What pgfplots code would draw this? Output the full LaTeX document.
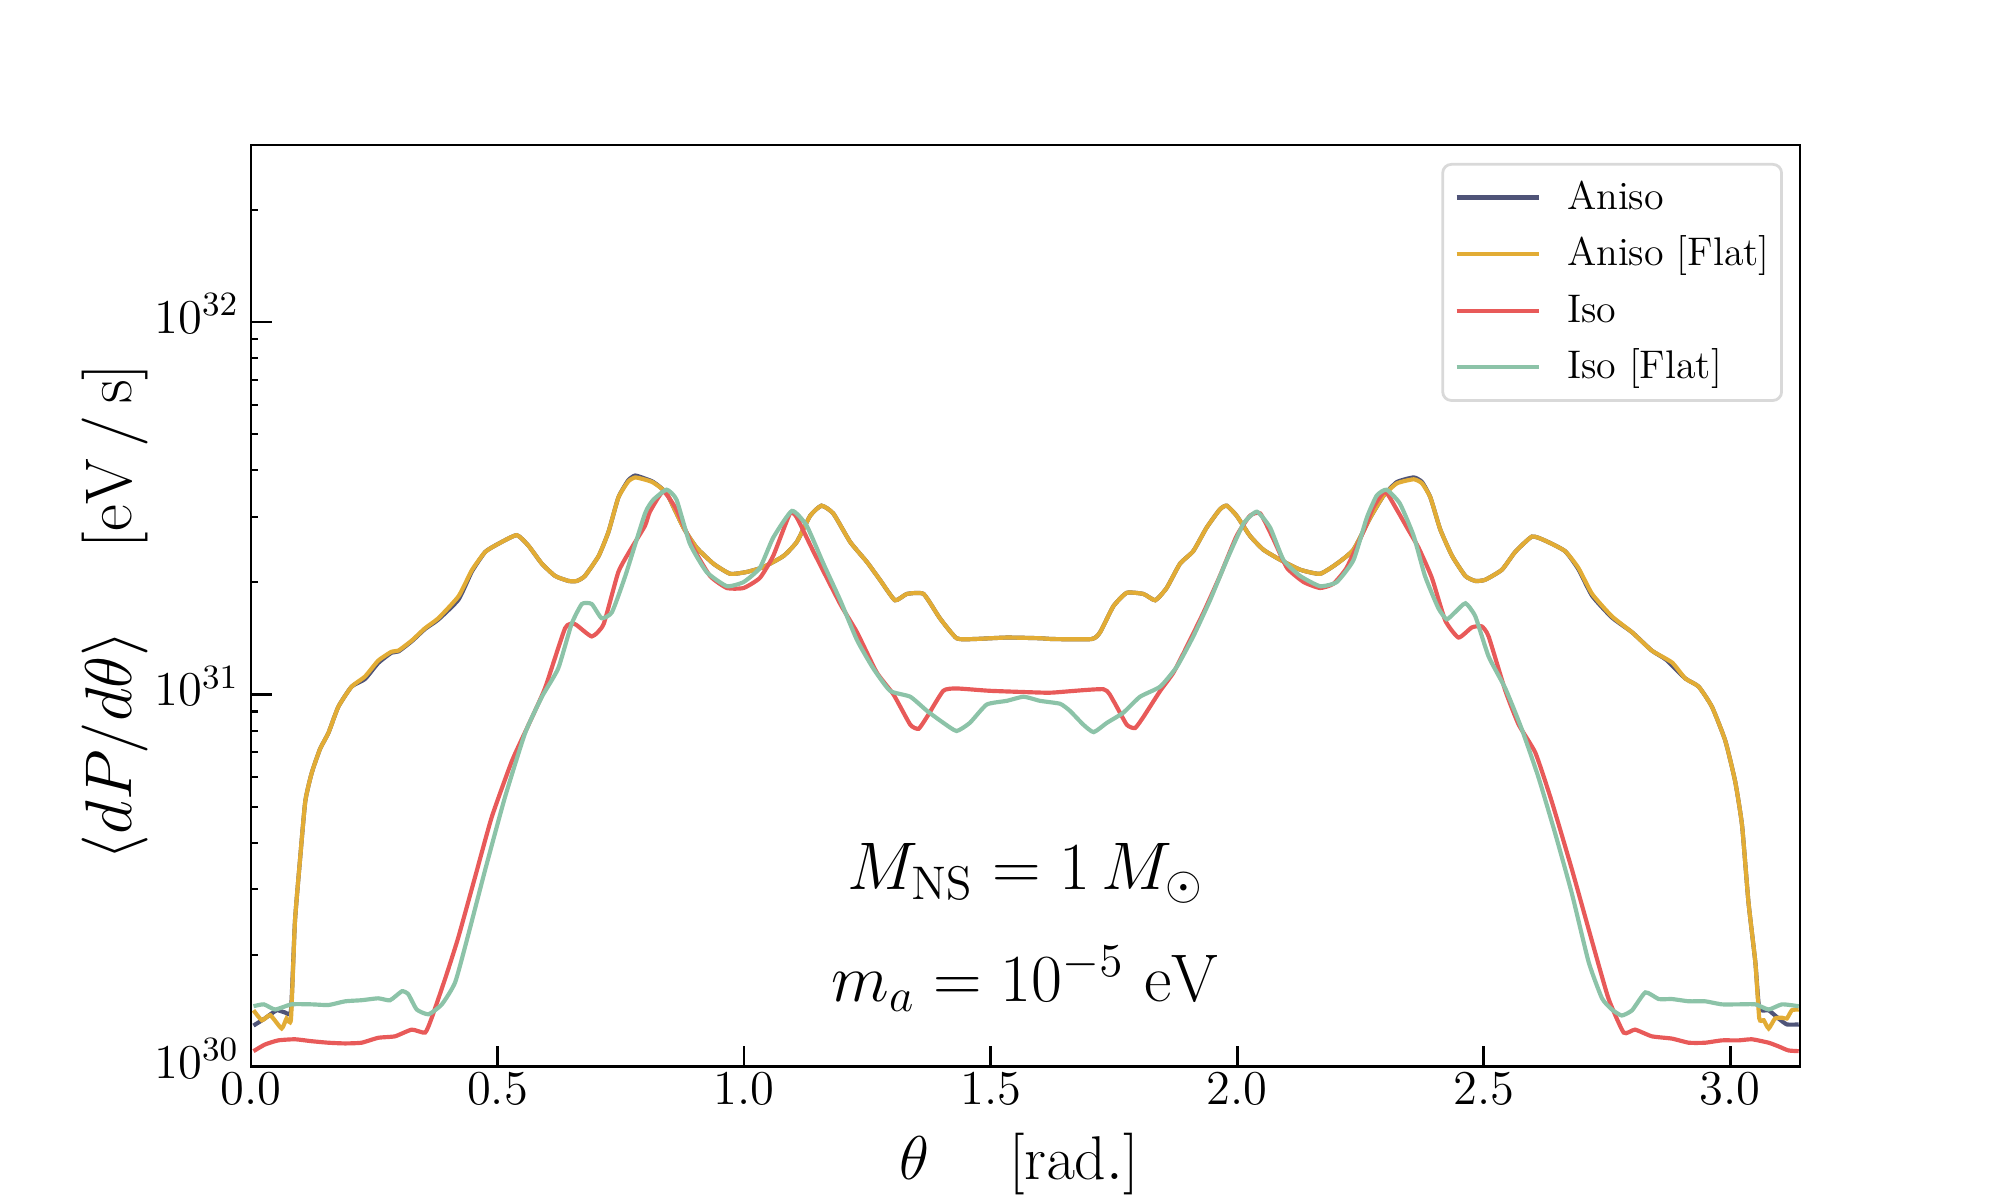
\RequirePackage{fix-cm}
\documentclass[border=0pt]{standalone}
\usepackage{pgfplots}
\usepackage{pgfplotstable}
\pgfplotsset{compat=1.18}
\definecolor{cAniso}{HTML}{4F5478}
\definecolor{cAnisoF}{HTML}{E2AC35}
\definecolor{cIso}{HTML}{E85A59}
\definecolor{cIsoF}{HTML}{8CC3A8}
\definecolor{legendgray}{rgb}{0.85,0.85,0.85}

\pgfplotstableread{
x y
0.005 1.291e30
0.028 1.349e30
0.052 1.419e30
0.069 1.400e30
0.081 1.419e30
0.089 2.449e30
0.099 3.556e30
0.110 5.164e30
0.123 6.152e30
0.140 7.145e30
0.157 7.889e30
0.177 9.268e30
0.204 1.050e31
0.231 1.100e31
0.258 1.215e31
0.285 1.295e31
0.299 1.305e31
0.326 1.390e31
0.353 1.500e31
0.380 1.590e31
0.421 1.800e31
0.448 2.140e31
0.475 2.415e31
0.502 2.541e31
0.539 2.679e31
0.563 2.506e31
0.590 2.244e31
0.617 2.080e31
0.644 2.018e31
0.661 2.018e31
0.677 2.080e31
0.705 2.355e31
0.725 2.735e31
0.745 3.381e31
0.765 3.760e31
0.779 3.873e31
0.799 3.800e31
0.816 3.720e31
0.843 3.467e31
0.877 2.805e31
0.904 2.477e31
0.938 2.244e31
0.972 2.109e31
1.005 2.133e31
1.039 2.198e31
1.080 2.355e31
1.107 2.570e31
1.134 3.020e31
1.157 3.214e31
1.181 3.062e31
1.215 2.570e31
1.249 2.270e31
1.276 2.028e31
1.306 1.791e31
1.330 1.862e31
1.364 1.862e31
1.397 1.603e31
1.431 1.416e31
1.465 1.409e31
1.533 1.422e31
1.600 1.416e31
1.627 1.409e31
1.705 1.409e31
1.722 1.469e31
1.749 1.726e31
1.776 1.875e31
1.810 1.862e31
1.834 1.791e31
1.857 1.932e31
1.884 2.244e31
1.911 2.427e31
1.938 2.805e31
1.965 3.141e31
1.979 3.214e31
1.999 3.020e31
2.026 2.667e31
2.053 2.449e31
2.087 2.301e31
2.128 2.163e31
2.168 2.109e31
2.202 2.244e31
2.236 2.449e31
2.270 2.985e31
2.297 3.420e31
2.324 3.720e31
2.358 3.828e31
2.375 3.720e31
2.392 3.381e31
2.412 2.773e31
2.436 2.355e31
2.463 2.080e31
2.483 2.018e31
2.503 2.032e31
2.537 2.163e31
2.564 2.415e31
2.598 2.655e31
2.625 2.588e31
2.665 2.427e31
2.692 2.170e31
2.720 1.840e31
2.760 1.610e31
2.801 1.469e31
2.841 1.312e31
2.870 1.240e31
2.909 1.104e31
2.936 1.050e31
2.963 9.268e30
2.990 7.516e30
3.010 5.848e30
3.024 4.457e30
3.037 2.773e30
3.051 1.910e30
3.059 1.435e30
3.078 1.419e30
3.098 1.349e30
3.115 1.300e30
3.139 1.300e30
}\tblAniso

\pgfplotstableread{
x y
0.005 1.419e30
0.022 1.334e30
0.039 1.377e30
0.062 1.268e30
0.072 1.349e30
0.081 1.343e30
0.089 2.449e30
0.099 3.556e30
0.110 5.164e30
0.123 6.152e30
0.140 7.145e30
0.157 7.889e30
0.177 9.268e30
0.204 1.050e31
0.231 1.117e31
0.258 1.233e31
0.285 1.303e31
0.299 1.312e31
0.326 1.396e31
0.353 1.507e31
0.380 1.603e31
0.421 1.837e31
0.448 2.158e31
0.475 2.415e31
0.502 2.541e31
0.539 2.679e31
0.563 2.506e31
0.590 2.244e31
0.617 2.080e31
0.644 2.018e31
0.661 2.018e31
0.677 2.080e31
0.705 2.355e31
0.725 2.735e31
0.745 3.381e31
0.765 3.733e31
0.779 3.828e31
0.799 3.776e31
0.816 3.707e31
0.843 3.467e31
0.877 2.805e31
0.904 2.477e31
0.938 2.244e31
0.972 2.109e31
1.005 2.133e31
1.039 2.198e31
1.080 2.355e31
1.107 2.570e31
1.134 3.020e31
1.157 3.214e31
1.181 3.062e31
1.215 2.570e31
1.249 2.270e31
1.276 2.028e31
1.306 1.791e31
1.330 1.862e31
1.364 1.862e31
1.397 1.603e31
1.431 1.416e31
1.465 1.409e31
1.533 1.422e31
1.600 1.416e31
1.627 1.409e31
1.705 1.409e31
1.722 1.469e31
1.749 1.726e31
1.776 1.875e31
1.810 1.862e31
1.834 1.791e31
1.857 1.932e31
1.884 2.244e31
1.911 2.427e31
1.938 2.805e31
1.965 3.141e31
1.979 3.214e31
1.999 3.020e31
2.026 2.667e31
2.053 2.449e31
2.087 2.301e31
2.128 2.163e31
2.168 2.109e31
2.202 2.244e31
2.236 2.449e31
2.270 2.985e31
2.297 3.420e31
2.324 3.690e31
2.358 3.784e31
2.375 3.690e31
2.392 3.381e31
2.412 2.773e31
2.436 2.355e31
2.463 2.080e31
2.483 2.018e31
2.503 2.032e31
2.537 2.163e31
2.564 2.415e31
2.598 2.655e31
2.625 2.588e31
2.665 2.427e31
2.692 2.188e31
2.720 1.862e31
2.760 1.622e31
2.801 1.469e31
2.841 1.312e31
2.882 1.219e31
2.909 1.104e31
2.936 1.050e31
2.963 9.268e30
2.990 7.516e30
3.010 5.848e30
3.024 4.457e30
3.037 2.773e30
3.051 1.910e30
3.059 1.349e30
3.068 1.334e30
3.078 1.268e30
3.091 1.349e30
3.105 1.355e30
3.115 1.349e30
3.125 1.419e30
3.139 1.426e30
}\tblAnisoFlat

\pgfplotstableread{
x y
0.005 1.102e30
0.028 1.148e30
0.055 1.178e30
0.089 1.186e30
0.123 1.172e30
0.157 1.161e30
0.191 1.156e30
0.224 1.161e30
0.258 1.197e30
0.292 1.208e30
0.326 1.259e30
0.353 1.236e30
0.366 1.349e30
0.394 1.730e30
0.420 2.218e30
0.454 3.221e30
0.488 4.677e30
0.529 6.622e30
0.563 8.299e30
0.596 1.038e31
0.637 1.507e31
0.657 1.545e31
0.691 1.432e31
0.715 1.545e31
0.745 2.133e31
0.772 2.477e31
0.799 2.838e31
0.809 3.097e31
0.836 3.508e31
0.863 3.133e31
0.897 2.477e31
0.931 2.080e31
0.965 1.932e31
0.999 1.932e31
1.032 2.056e31
1.059 2.355e31
1.093 3.062e31
1.107 2.985e31
1.141 2.415e31
1.195 1.750e31
1.229 1.469e31
1.269 1.146e31
1.303 1.000e31
1.337 8.299e30
1.354 8.091e30
1.371 8.710e30
1.404 1.023e31
1.431 1.038e31
1.499 1.023e31
1.600 1.012e31
1.627 1.012e31
1.729 1.033e31
1.749 9.616e30
1.776 8.299e30
1.793 8.128e30
1.810 8.710e30
1.844 1.023e31
1.871 1.146e31
1.898 1.346e31
1.932 1.663e31
1.965 2.080e31
1.999 2.667e31
2.026 3.020e31
2.047 3.062e31
2.074 2.606e31
2.101 2.188e31
2.135 2.004e31
2.168 1.932e31
2.195 1.982e31
2.222 2.188e31
2.256 2.735e31
2.276 3.177e31
2.300 3.508e31
2.324 3.133e31
2.345 2.800e31
2.368 2.477e31
2.395 2.056e31
2.422 1.581e31
2.449 1.422e31
2.476 1.514e31
2.496 1.524e31
2.510 1.432e31
2.544 1.023e31
2.571 8.299e30
2.605 6.966e30
2.638 5.164e30
2.679 3.388e30
2.720 2.168e30
2.753 1.528e30
2.784 1.236e30
2.807 1.259e30
2.841 1.208e30
2.882 1.191e30
2.916 1.161e30
2.949 1.161e30
2.983 1.178e30
3.017 1.178e30
3.044 1.186e30
3.078 1.161e30
3.098 1.135e30
3.118 1.107e30
3.139 1.102e30
}\tblIso

\pgfplotstableread{
x y
0.005 1.455e30
0.026 1.472e30
0.049 1.426e30
0.082 1.472e30
0.123 1.472e30
0.157 1.466e30
0.191 1.500e30
0.224 1.510e30
0.258 1.528e30
0.282 1.510e30
0.306 1.596e30
0.319 1.567e30
0.336 1.426e30
0.360 1.384e30
0.387 1.472e30
0.414 1.687e30
0.441 2.275e30
0.475 3.388e30
0.515 5.297e30
0.556 7.889e30
0.590 9.863e30
0.623 1.175e31
0.650 1.545e31
0.671 1.750e31
0.691 1.750e31
0.711 1.603e31
0.732 1.663e31
0.759 2.080e31
0.799 3.062e31
0.816 3.334e31
0.843 3.548e31
0.863 3.334e31
0.890 2.541e31
0.924 2.133e31
0.965 1.954e31
0.999 2.004e31
1.032 2.188e31
1.059 2.636e31
1.097 3.112e31
1.127 2.838e31
1.161 2.244e31
1.195 1.791e31
1.229 1.400e31
1.262 1.175e31
1.296 1.023e31
1.337 9.863e30
1.371 9.036e30
1.404 8.395e30
1.431 7.980e30
1.458 8.395e30
1.492 9.397e30
1.533 9.616e30
1.567 9.863e30
1.600 9.616e30
1.641 9.441e30
1.661 9.036e30
1.688 8.299e30
1.709 7.925e30
1.736 8.395e30
1.769 8.933e30
1.803 9.863e30
1.844 1.050e31
1.878 1.189e31
1.911 1.432e31
1.945 1.791e31
1.979 2.296e31
2.013 2.877e31
2.040 3.097e31
2.067 2.805e31
2.094 2.296e31
2.128 2.080e31
2.168 1.954e31
2.202 2.004e31
2.236 2.296e31
2.263 2.985e31
2.283 3.420e31
2.303 3.548e31
2.330 3.258e31
2.358 2.667e31
2.381 2.080e31
2.408 1.706e31
2.425 1.592e31
2.442 1.663e31
2.463 1.758e31
2.483 1.622e31
2.510 1.265e31
2.544 1.038e31
2.577 8.091e30
2.611 5.998e30
2.645 4.236e30
2.679 2.917e30
2.713 1.910e30
2.740 1.528e30
2.760 1.426e30
2.780 1.374e30
2.801 1.419e30
2.828 1.585e30
2.855 1.521e30
2.882 1.521e30
2.916 1.500e30
2.949 1.500e30
2.983 1.472e30
3.017 1.472e30
3.051 1.472e30
3.078 1.426e30
3.105 1.472e30
3.139 1.455e30
}\tblIsoFlat

\begin{document}
\begin{tikzpicture}
\useasboundingbox (0,0) rectangle (576pt,345.6pt);
\begin{axis}[
  at={(72.3pt,38.3pt)}, anchor=south west,
  scale only axis, width=446.1pt, height=265.5pt,
  xmin=0, xmax=3.14159, ymin=1e30, ymax=2.99e32,
  ymode=log, log basis y=10,
  xtick={0,0.5,1,1.5,2,2.5,3},
  xticklabel style={/pgf/number format/fixed, /pgf/number format/fixed zerofill, /pgf/number format/precision=1, yshift=1.6pt},
  ytick={1e30,1e31,1e32},
  minor ytick={2e30,3e30,4e30,5e30,6e30,7e30,8e30,9e30,2e31,3e31,4e31,5e31,6e31,7e31,8e31,9e31,2e32},
  tick pos=left, tick align=inside,
  major tick length=6pt, minor tick length=2pt,
  major tick style={line width=0.8pt, black},
  minor tick style={line width=0.6pt, black},
  axis line style={line width=0.8pt},
  tick label style={font=\fontsize{14}{17}\selectfont},
  yticklabel style={anchor=base east, yshift=-0.322em},
  xlabel={$\theta\hspace{1.3em}[\mathrm{rad.}]$},
  ylabel={$\langle dP/d\theta\rangle\hspace{1.25em}[\mathrm{eV\,/\,s}]$},
  xlabel style={font=\fontsize{17.8}{21}\selectfont, at={(axis description cs:0.4958,-0.0716)}, anchor=north, inner sep=0pt},
  ylabel style={font=\fontsize{19}{23}\selectfont, at={(axis description cs:-0.0658,0.4935)}, anchor=south, inner sep=0pt},
  legend style={at={(axis description cs:0.989,0.9805)}, anchor=north east,
    draw=legendgray, line width=0.8pt, rounded corners=2.5pt, fill=white,
    font=\fontsize{11.5}{14}\selectfont, inner xsep=3.4pt, inner ysep=4.6pt,
    row sep=6.4pt, column sep=7.6pt,
    nodes={inner sep=0pt, text height=0.83em, text depth=0.16em}},
  legend cell align=left,
  legend image code/.code={\draw[#1, rounded corners=0pt] (0pt,0pt) -- (23.6pt,0pt);},
  every axis plot/.append style={smooth, tension=0.3},
]
\addplot[cAniso, line width=1.2pt] table[x=x,y=y] {\tblAniso};
\addlegendentry{Aniso}
\addplot[cAnisoF, line width=1.2pt] table[x=x,y=y] {\tblAnisoFlat};
\addlegendentry{Aniso [Flat]}
\addplot[cIso, line width=1.2pt] table[x=x,y=y] {\tblIso};
\addlegendentry{Iso}
\addplot[cIsoF, line width=1.2pt] table[x=x,y=y] {\tblIsoFlat};
\addlegendentry{Iso [Flat]}
\node[anchor=base, font=\fontsize{19.4}{23}\selectfont, inner sep=0pt] at (axis cs:1.5708,2.99e30) {$M_{\mathrm{NS}} = 1\,M_\odot$};
\node[anchor=base, font=\fontsize{19.4}{23}\selectfont, inner sep=0pt] at (axis cs:1.5708,1.5e30) {$m_a = 10^{-5}\ \mathrm{eV}$};
\end{axis}
\end{tikzpicture}
\end{document}
